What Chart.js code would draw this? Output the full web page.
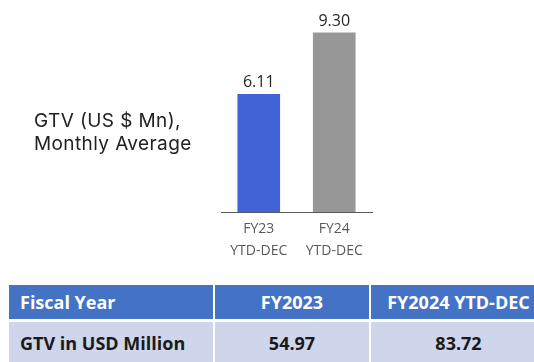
<!DOCTYPE html>
<html>
<head>
<meta charset="utf-8">
<script src="https://cdn.jsdelivr.net/npm/chart.js@4.4.1/dist/chart.umd.min.js"></script>
<style>
  html, body { margin: 0; padding: 0; background: #ffffff; }
  body { width: 534px; height: 362px; position: relative; overflow: hidden; }
  #wrap { position: absolute; left: 0; top: 0; width: 534px; height: 270px; }
  #title {
    position: absolute; left: 34px; top: 109px;
    font-family: Inter, "Open Sans", sans-serif; font-size: 19px; line-height: 23px;
    letter-spacing: 0.4px; color: #222222; white-space: nowrap;
  }
  .cell {
    position: absolute; box-sizing: border-box;
    font-family: "Open Sans", sans-serif; font-weight: 700; font-size: 18px;
    display: flex; align-items: center; white-space: nowrap; overflow: hidden;
  }
  .hdr { background: #4472C4; color: #ffffff; }
  .row { background: #CFD5EA; color: #1a1a1a; }
</style>
</head>
<body>
<div id="wrap"><canvas id="chart" width="534" height="270"></canvas></div>
<div id="title">GTV (US $ Mn),<br>Monthly Average</div>
<div id="table"></div>
<script>
// Monthly average GTV per fiscal period
const categories = [["FY23", "YTD-DEC"], ["FY24", "YTD-DEC"]];
const monthlyAvg = [6.11, 9.30];
const barColors = ["#4263D6", "#979797"];

// Summary table
const tableHeader = ["Fiscal Year", "FY2023", "FY2024 YTD-DEC"];
const tableRow = ["GTV in USD Million", "54.97", "83.72"];

// Value labels above each bar
const valueLabels = {
  id: "valueLabels",
  afterDatasetsDraw(chart) {
    const ctx = chart.ctx;
    const meta = chart.getDatasetMeta(0);
    ctx.save();
    ctx.font = "16px 'Open Sans', sans-serif";
    ctx.fillStyle = "#262626";
    ctx.textAlign = "center";
    ctx.textBaseline = "alphabetic";
    meta.data.forEach((bar, i) => {
      ctx.fillText(monthlyAvg[i].toFixed(2), bar.x, bar.y - 7);
    });
    ctx.restore();
  }
};

new Chart(document.getElementById("chart"), {
  type: "bar",
  data: {
    labels: categories,
    datasets: [{
      data: monthlyAvg,
      backgroundColor: barColors,
      borderWidth: 0,
      categoryPercentage: 1,
      barPercentage: 0.565
    }]
  },
  options: {
    responsive: false,
    animation: false,
    layout: { padding: { left: 221, right: 162, top: 19, bottom: 6 } },
    plugins: { legend: { display: false }, tooltip: { enabled: false } },
    scales: {
      x: {
        grid: { display: false, drawTicks: false },
        border: { display: true, color: "#595959", width: 1 },
        afterFit(scale) { scale.height = 52; },
        ticks: {
          color: "#595959",
          padding: 6,
          font: { family: "'Open Sans', sans-serif", size: 14, lineHeight: 1.57 }
        }
      },
      y: {
        display: false,
        min: 0,
        max: 10
      }
    }
  },
  plugins: [valueLabels]
});

// Build the table cells
const table = document.getElementById("table");
const cols = [
  { left: 9, width: 204 },
  { left: 215, width: 154 },
  { left: 371, width: 175 }
];
function addCell(text, cls, col, top, height, align, pad) {
  const d = document.createElement("div");
  d.className = "cell " + cls;
  d.style.left = col.left + "px";
  d.style.top = top + "px";
  d.style.width = col.width + "px";
  d.style.height = height + "px";
  d.style.justifyContent = align;
  if (pad) d.style.paddingLeft = pad + "px";
  d.textContent = text;
  table.appendChild(d);
}
tableHeader.forEach((t, i) => addCell(t, "hdr", cols[i], 285, 34, i === 0 ? "flex-start" : "center", i === 0 ? 11 : 0));
tableRow.forEach((t, i) => addCell(t, "row", cols[i], 322, 42, i === 0 ? "flex-start" : "center", i === 0 ? 11 : 0));
</script>
</body>
</html>
